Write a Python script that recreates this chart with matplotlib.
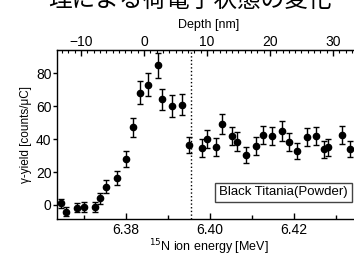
import numpy as np
import matplotlib
matplotlib.use("Agg")
import matplotlib.pyplot as plt
from matplotlib.ticker import MultipleLocator

plt.rcParams['font.family'] = ['Liberation Sans', 'DejaVu Sans']

# 15N ion energy [MeV] and gamma yield [counts/uC]
energy = [6.3645, 6.3657, 6.3684, 6.3700, 6.3725, 6.3738, 6.3752, 6.3778, 6.3800,
          6.3817, 6.3833, 6.3853, 6.3876, 6.3886, 6.3910, 6.3933, 6.3949, 6.3982,
          6.3992, 6.4014, 6.4028, 6.4053, 6.4064, 6.4087, 6.4110, 6.4127, 6.4147,
          6.4172, 6.4189, 6.4208, 6.4232, 6.4252, 6.4271, 6.4281, 6.4314, 6.4334]
yield_ = [1.0, -4.0, -1.6, -1.0, -1.0, 4.0, 11.0, 16.6, 28.0,
          47.0, 68.0, 73.0, 84.6, 64.0, 60.0, 60.8, 36.5, 34.8,
          40.0, 35.0, 49.0, 42.0, 38.5, 30.4, 35.8, 42.5, 42.0,
          45.0, 38.0, 32.8, 41.0, 42.0, 33.8, 35.0, 42.5, 34.0]
err = [2.7, 2.5, 2.7, 3.0, 3.0, 3.5, 4.0, 4.2, 5.0,
       6.0, 7.0, 7.0, 7.6, 6.5, 6.5, 6.5, 5.0, 5.5,
       5.5, 5.5, 6.0, 5.5, 5.5, 5.0, 5.5, 5.5, 5.5,
       6.0, 5.5, 5.0, 5.5, 5.5, 5.0, 5.0, 5.5, 5.0]

surface_energy = 6.3955
depth0_energy = 6.38429     # energy at depth 0 nm
mev_per_nm = 0.0015018

title_text = "理による荷電子状態の変化"
sample_label = "Black Titania(Powder)"

fig = plt.figure(figsize=(3.54, 2.56), dpi=100)
ax = fig.add_axes([57 / 354, 37 / 256, (361 - 57) / 354, 169 / 256])

ax.errorbar(energy, yield_, yerr=err, fmt='o', color='black', ms=4.5,
            elinewidth=1, capsize=2.5, capthick=1)
ax.axvline(surface_energy, color='black', linestyle=':', linewidth=1)

ax.set_xlim(6.36355, 6.43602)
ax.set_ylim(-8.5, 94)

ax.xaxis.set_major_locator(MultipleLocator(0.02))
ax.xaxis.set_minor_locator(MultipleLocator(0.01))
ax.xaxis.set_major_formatter(plt.FormatStrFormatter('%.2f'))
ax.yaxis.set_major_locator(MultipleLocator(20))
ax.tick_params(axis='x', direction='in', length=4, width=1, labelsize=10, pad=3, top=False)
ax.tick_params(axis='x', which='minor', direction='in', length=3, width=1, top=False)
ax.tick_params(axis='y', direction='out', length=3, width=1, labelsize=10, pad=1, right=False)
for s in ax.spines.values():
    s.set_linewidth(1)

ax.set_xlabel("$^{15}$N ion energy [MeV]", fontsize=9, labelpad=0)
ax.set_ylabel("γ-yield [counts/μC]", fontsize=8.5, labelpad=3)

def e2d(e):
    return (np.asarray(e) - depth0_energy) / mev_per_nm

def d2e(d):
    return np.asarray(d) * mev_per_nm + depth0_energy

top = ax.secondary_xaxis('top', functions=(e2d, d2e))
top.xaxis.set_major_locator(MultipleLocator(10))
top.xaxis.set_minor_locator(MultipleLocator(1))
top.tick_params(direction='in', length=4, width=1, labelsize=10, pad=1)
top.tick_params(which='minor', direction='in', length=2.5, width=0.8)
top.set_xlabel("Depth [nm]", fontsize=9, labelpad=5)

fig.text(348 / 354, 1 - 192.5 / 256, sample_label, ha='right', va='center',
         fontsize=9.5, zorder=5,
         bbox=dict(boxstyle='square,pad=0.3', facecolor='white', edgecolor='#444444', linewidth=1))

fig.text(190 / 354, 1.0, title_text, ha='center', va='center', fontsize=17,
         family=['Noto Sans CJK JP', 'DejaVu Sans'])

fig.savefig("out.png", dpi=100)
